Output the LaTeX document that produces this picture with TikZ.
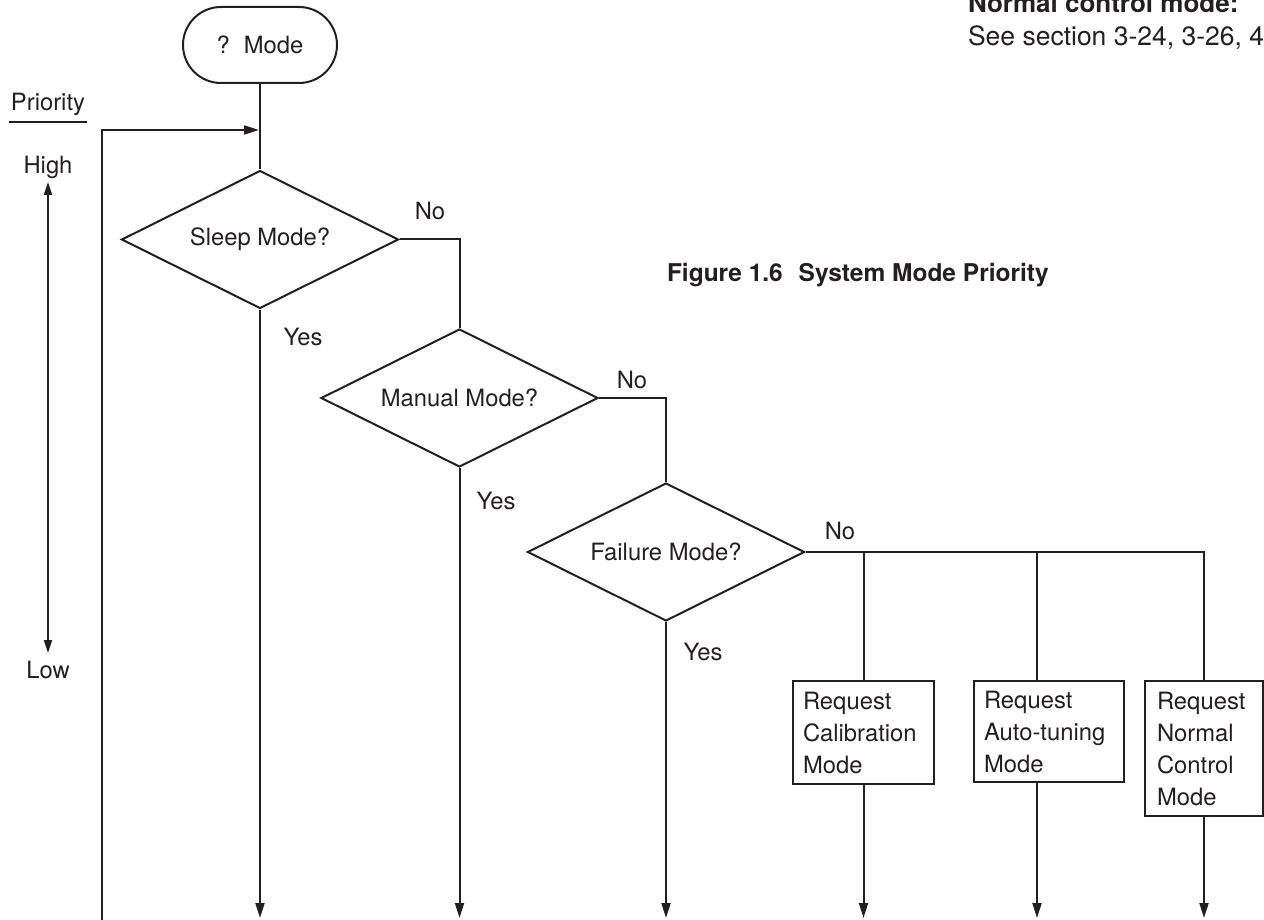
\documentclass[tikz,border=0pt]{standalone}
\usepackage{fontspec}
\setmainfont{TeX Gyre Heros}
\usetikzlibrary{arrows.meta,shapes.geometric}
\definecolor{ink}{RGB}{35,31,32}
\begin{document}
\begin{tikzpicture}[x=1pt,y=-1pt, line width=2pt, draw=ink, text=ink,
  every node/.style={font=\fontsize{23.8}{32}\selectfont},
  dec/.style={diamond, draw, minimum width=277pt, minimum height=138pt, inner sep=0pt, aspect=2},
  term/.style={rectangle, rounded corners=38pt, draw, minimum width=154pt, minimum height=76pt},
  reqbox/.style={rectangle, draw, align=left, inner xsep=10pt, inner ysep=0pt},
  lbl/.style={anchor=base, inner sep=0pt},
  arr/.style={-{Triangle[length=15pt,width=9pt]}},
  darr/.style={{Triangle[length=13pt,width=8pt]}-{Triangle[length=13pt,width=8pt]}},
]
\useasboundingbox (0,0) rectangle (1264,920);

% main flow nodes
\node[term] (start) at (260,45) {?\hspace{14pt}Mode};
\node[dec] (sleep) at (260,239.5) {Sleep Mode?};
\node[dec] (manual) at (459.5,398) {Manual Mode?};
\node[dec] (fail) at (666,552) {Failure Mode?};

\node[reqbox, text width=121pt, minimum height=103pt] (cal) at (863.5,732.5) {Request\\Calibration\\Mode};
\node[reqbox, text width=130pt, minimum height=101pt] (auto) at (1049,731.5) {Request\\Auto-tuning\\Mode};
\node[reqbox, inner xsep=12pt, text width=94pt, minimum height=135pt] (norm) at (1204,748.5) {Request\\Normal\\Control\\Mode};

% coordinates
\coordinate (fbjoin) at (260,130);
\coordinate (fbfoot) at (102,920);
\coordinate (bot) at (0,918);
\coordinate (j2) at (1037,552);
\coordinate (phigh) at (48,182);
\coordinate (plow) at (48,653);

% connectors
\draw (start.south) -- (sleep.north);
\draw[arr, shorten >=1pt] (fbfoot) |- (fbjoin);
\draw (sleep.east) -| (manual.north);
\draw (manual.east) -| (fail.north);
\draw (fail.east) -| (norm.north);
\draw (cal.north |- fail.east) -- (cal.north);
\draw (j2) -- (j2 |- auto.north);

\draw[arr] (sleep.south) -- (sleep.south |- bot);
\draw[arr] (manual.south) -- (manual.south |- bot);
\draw[arr] (fail.south) -- (fail.south |- bot);
\draw[arr] (cal.south) -- (cal.south |- bot);
\draw[arr] (j2 |- auto.south) -- (j2 |- bot);
\draw[arr] (norm.south) -- (norm.south |- bot);

% priority scale
\node[lbl] (prio) at (48,111) {Priority};
\draw[line width=1.5pt] (9,122) -- (87,122);
\node[lbl] (high) at (48,174) {High};
\node[lbl] (low) at (48,678) {Low};
\draw[darr] (plow) -- (phigh);

% branch labels
\node[lbl] (no1) at (430,220) {No};
\node[lbl] (no2) at (632,388) {No};
\node[lbl] (no3) at (840,539) {No};
\node[lbl] (yes1) at (303,345) {Yes};
\node[lbl] (yes2) at (496,509) {Yes};
\node[lbl] (yes3) at (703,660) {Yes};

% caption and notes
\node[anchor=base west, inner sep=0pt, font=\fontsize{24.5}{30}\selectfont\bfseries] (cap) at (666,281) {Figure 1.6\hspace{9pt} System Mode Priority};
\node[anchor=base west, inner sep=0pt, font=\fontsize{26}{32}\selectfont\bfseries] (nc) at (967,13) {Normal control mode:};
\node[anchor=base west, inner sep=0pt, font=\fontsize{26.5}{32}\selectfont] (see) at (967,46) {See section 3-24, 3-26, 4};
\end{tikzpicture}
\end{document}
